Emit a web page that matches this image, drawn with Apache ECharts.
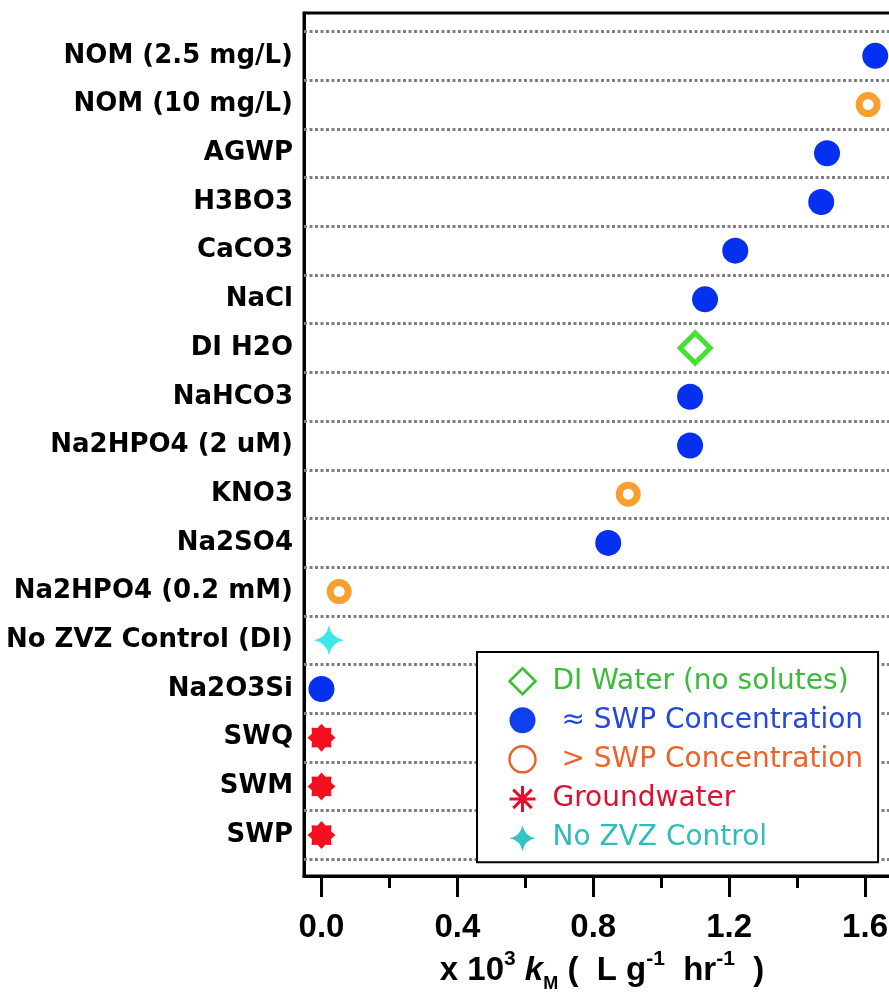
<!DOCTYPE html>
<html><head><meta charset="utf-8">
<script src="https://cdn.jsdelivr.net/npm/echarts@6/dist/echarts.min.js"></script>
<style>html,body{margin:0;padding:0;background:#fff;overflow:hidden}#c{width:889px;height:1008px}</style>
</head><body><div id="c"></div><script>
// ---- data (top to bottom as in the figure) ----
const categories = ['NOM (2.5 mg/L)', 'NOM (10 mg/L)', 'AGWP', 'H3BO3', 'CaCO3', 'NaCl', 'DI H2O', 'NaHCO3', 'Na2HPO4 (2 uM)', 'KNO3', 'Na2SO4', 'Na2HPO4 (0.2 mM)', 'No ZVZ Control (DI)', 'Na2O3Si', 'SWQ', 'SWM', 'SWP'];
const kM = [1.630, 1.609, 1.488, 1.471, 1.218, 1.129, 1.100, 1.085, 1.085, 0.903, 0.844, 0.052, 0.022, 0.000, 0.000, 0.000, 0.000];
const groups = ['approx', 'greater', 'approx', 'approx', 'approx', 'approx', 'di', 'approx', 'approx', 'greater', 'approx', 'greater', 'control', 'approx', 'ground', 'ground', 'ground'];
const groupKeys = ['di', 'approx', 'greater', 'ground', 'control'];
const groupNames = ['DI Water (no solutes)', '≈ SWP Concentration', '> SWP Concentration', 'Groundwater', 'No ZVZ Control'];
const xMajorTicks = [0, 0.4, 0.8, 1.2, 1.6];
const xMinorTicks = [0.2, 0.6, 1.0, 1.4];

// ---- styles ----
const n = categories.length;
const yIdx = k => n - 1 - k;
function starPath(points, rOut, rIn) {
  let d = '';
  for (let i = 0; i < points * 2; i++) {
    const r = i % 2 === 0 ? rOut : rIn;
    const a = Math.PI * i / points - Math.PI / 2;
    d += (i === 0 ? 'M' : 'L') + (r * Math.cos(a)).toFixed(3) + ',' + (r * Math.sin(a)).toFixed(3);
  }
  return 'path://' + d + 'Z';
}
const asteriskFill = starPath(8, 10, 7.4);
const asteriskLine = 'path://M10,0L10,20M0,10L20,10M2.9,2.9L17.1,17.1M2.9,17.1L17.1,2.9';
const star4 = 'path://M0,-10Q1.6,-1.6 10,0Q1.6,1.6 0,10Q-1.6,1.6 -10,0Q-1.6,-1.6 0,-10Z';

const markStyle = {
  di: { symbol: 'diamond', symbolSize: 30, itemStyle: { opacity: 1, color: '#fff', borderColor: '#46e032', borderWidth: 5 } },
  approx: { symbol: 'circle', symbolSize: 26, itemStyle: { opacity: 1, color: '#0630f0' } },
  greater: { symbol: 'circle', symbolSize: 18, itemStyle: { opacity: 1, color: '#fff', borderColor: '#f7a030', borderWidth: 7 } },
  ground: { symbol: asteriskFill, symbolSize: 28, itemStyle: { opacity: 1, color: '#f4101e' } },
  control: { symbol: star4, symbolSize: 30, itemStyle: { opacity: 1, color: '#3ee8ea' } }
};
const legendStyle = [
  { icon: 'diamond', itemStyle: { color: 'transparent', borderColor: '#3cbf34', borderWidth: 2.5 }, textStyle: { color: '#3cbb3a' } },
  { icon: 'circle', itemStyle: { color: '#1040ee' }, textStyle: { color: '#2448d8' } },
  { icon: 'circle', itemStyle: { color: 'transparent', borderColor: '#e8642a', borderWidth: 2.5 }, textStyle: { color: '#e8642a' } },
  { icon: asteriskLine, itemStyle: { color: 'transparent', borderColor: '#e0102a', borderWidth: 3 }, textStyle: { color: '#dc1030' } },
  { icon: star4, itemStyle: { color: '#30c4c4' }, textStyle: { color: '#30bcbc' } }
];

const boundaries = [];
for (let i = 0; i <= n; i++) boundaries.push(i - 0.5);

const series = groupKeys.map((g, gi) => {
  const data = [];
  categories.forEach((c, k) => { if (groups[k] === g) data.push([kM[k], yIdx(k)]); });
  return Object.assign({ type: 'scatter', name: groupNames[gi], data: data, z: 3 }, markStyle[g]);
});
series.push({
  type: 'scatter', data: [], silent: true, z: 1,
  markLine: {
    silent: true, symbol: 'none', animation: false,
    label: { show: false },
    lineStyle: { color: '#808080', width: 3, type: [3, 2.5] },
    data: boundaries.map(b => ({ yAxis: b }))
  }
});

const chart = echarts.init(document.getElementById('c'), null, { renderer: 'canvas' });
chart.setOption({
  animation: false,
  backgroundColor: '#fff',
  textStyle: { fontFamily: 'DejaVu Sans' },
  grid: { left: 304, top: 13, bottom: 132, right: -27, outerBoundsMode: 'none', show: true, borderColor: '#000', borderWidth: 3, backgroundColor: 'transparent' },
  xAxis: [{
    type: 'value', min: -0.0515, max: 1.75, position: 'bottom',
    axisLine: { show: true, onZero: false, lineStyle: { color: '#000', width: 3 } },
    axisTick: { show: true, customValues: xMajorTicks, length: 21, lineStyle: { color: '#000', width: 3 } },
    axisLabel: { customValues: xMajorTicks, margin: 35, color: '#000', fontWeight: 'bold', fontSize: 33, fontFamily: 'Liberation Sans', formatter: v => v.toFixed(1) },
    splitLine: { show: false },
    name: 'x 10{sup|3} {it|k}{sub|M} (  L g{sup|-1}  hr{sup|-1}  )',
    nameLocation: 'middle', nameGap: 73,
    nameTextStyle: {
      color: '#000', fontSize: 33, fontWeight: 'bold', fontFamily: 'Liberation Sans', lineHeight: 44, padding: [0, 16, 0, 0],
      rich: {
        sup: { fontSize: 21, fontWeight: 'bold', color: '#000', verticalAlign: 'top', lineHeight: 24, fontFamily: 'Liberation Sans' },
        sub: { fontSize: 18, fontWeight: 'bold', color: '#000', verticalAlign: 'bottom', lineHeight: 22, fontFamily: 'Liberation Sans' },
        it: { fontSize: 33, fontWeight: 'bold', fontStyle: 'italic', color: '#000', lineHeight: 44, fontFamily: 'Liberation Sans' }
      }
    }
  }, {
    type: 'value', min: -0.0515, max: 1.75, position: 'bottom', gridIndex: 0,
    axisLine: { show: false, onZero: false },
    axisTick: { show: true, customValues: xMinorTicks, length: 12, lineStyle: { color: '#000', width: 3 } },
    axisLabel: { show: false },
    splitLine: { show: false }
  }],
  yAxis: {
    type: 'value', min: -0.84, max: 16.88,
    axisLine: { show: true, onZero: false, lineStyle: { color: '#000', width: 3 } },
    axisTick: { show: false },
    splitLine: { show: false },
    axisLabel: {
      customValues: categories.map((c, k) => yIdx(k)),
      formatter: v => categories[n - 1 - Math.round(v)],
      margin: 11, color: '#000', fontWeight: 'bold', fontSize: 26, fontFamily: 'DejaVu Sans'
    }
  },
  legend: {
    left: 477, top: 652, orient: 'vertical', selectedMode: false,
    backgroundColor: '#fff', borderColor: '#000', borderWidth: 2,
    padding: [15, 15, 10, 31], itemGap: 10.8, itemWidth: 26, itemHeight: 26,
    textStyle: { fontSize: 28, fontFamily: 'DejaVu Sans', padding: [0, 0, 0, 12] },
    formatter: name => (name.charAt(0) === '≈' || name.charAt(0) === '>') ? ' ' + name : name,
    data: groupNames.map((nm, i) => Object.assign({ name: nm }, legendStyle[i])),
    z: 10
  },
  series: series
});
</script></body></html>
